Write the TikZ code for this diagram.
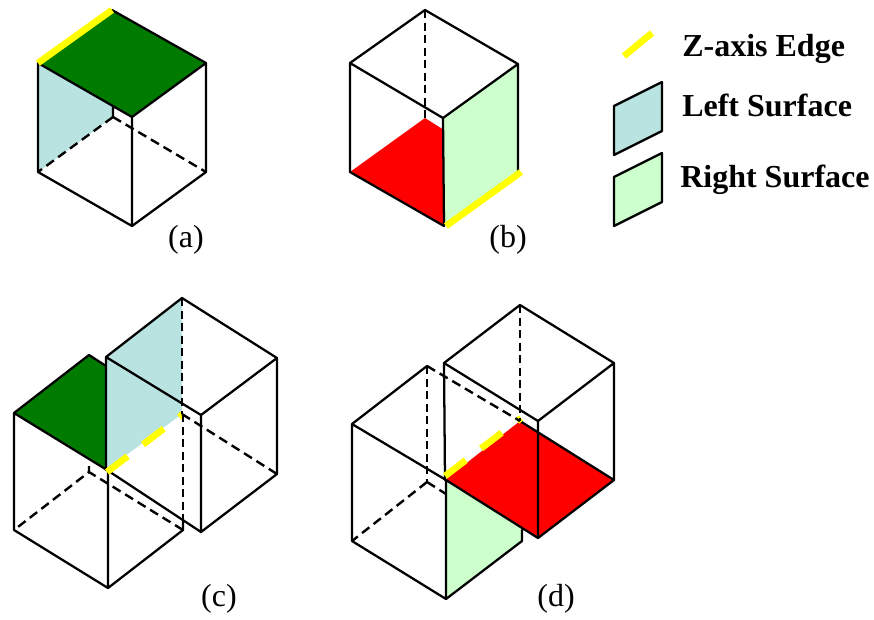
\documentclass[tikz,border=0pt]{standalone}
\usepackage{fontspec}
\setmainfont{Liberation Serif}
\definecolor{tealf}{HTML}{B9E3E1}
\definecolor{lgreen}{HTML}{CCFFCC}
\definecolor{dgreen}{HTML}{007B00}
\definecolor{yel}{HTML}{FFFF00}
\tikzset{
  edgeline/.style={line width=1.7pt,line join=round,line cap=round},
  hidden/.style={line width=1.8pt,dash pattern=on 7pt off 4pt},
  hiddenv/.style={line width=1.8pt,dash pattern=on 6pt off 3.4pt},
  zedge/.style={line width=5pt,yel},
  zdash/.style={line width=5pt,yel,dash pattern=on 19.5pt off 14.5pt},
  caplabel/.style={font=\fontsize{24pt}{24pt}\selectfont,anchor=base},
  legendlabel/.style={font=\fontsize{24pt}{24pt}\selectfont\bfseries,anchor=base west,inner sep=0pt},
}
\begin{document}
\begin{tikzpicture}[x=0.75pt,y=-0.75pt]
\useasboundingbox (0,0) rectangle (874,619);
% (a)
\fill[tealf] (38,63) -- (113,105) -- (113,117) -- (38,172) -- cycle;
\fill[dgreen] (112,10) -- (38,63) -- (132,117) -- (206,63) -- cycle;
\draw[edgeline] (112,10) -- (206,63) -- (132,117) -- (38,63) -- (38,172) -- (132,226) -- (206,172) -- (206,63) (132,117) -- (132,226) (113,106) -- (113,117);
\draw[zedge] (38,63) -- (112,10);
\draw[hidden] (113,117) -- (38,172) (113,117) -- (206,172);
\node[caplabel] (la) at (186,247) {(a)};
% (b)
\fill[red] (425,118) -- (350,172) -- (444,226) -- (444,130) -- cycle;
\fill[lgreen] (443,118) -- (518,64) -- (518,172) -- (444,226) -- cycle;
\draw[edgeline] (425,10) -- (350,63) -- (443,118) -- (518,64) -- (425,10) (350,63) -- (350,172) -- (444,226) -- (443,118) (518,64) -- (518,172);
\draw[zedge] (446,226) -- (521,172);
\draw[hiddenv] (425,10) -- (425,118);
\node[caplabel] (lb) at (508,247) {(b)};
% (c)
\fill[dgreen] (14,413) -- (89,355) -- (106,366) -- (106,470) -- cycle;
\fill[tealf] (106,357) -- (182,298) -- (182,414) -- (106,470) -- cycle;
\draw[edgeline] (14,413) -- (89,355) -- (106,366) (14,413) -- (107,470) -- (201,532)
  (14,413) -- (14,530) -- (108,588) -- (183,530) -- (183,522) (108,470) -- (108,588);
\draw[edgeline] (106,357) -- (182,298) -- (277,358) -- (201,415) -- (106,357) -- (106,470)
  (201,415) -- (201,532) -- (277,474) -- (277,358);
\draw[zdash] (107,472) -- (183,414);
\draw[hiddenv] (182,298) -- (182,414);
\draw[hidden] (182,414) -- (277,474);
\draw[hiddenv] (183,414) -- (183,530);
\draw[hidden] (183,530) -- (89,472) -- (14,530) (89,472) -- (89,466);
\node[caplabel] (lc) at (219,606) {(c)};
% (d)
\fill[lgreen] (446,480) -- (522,528) -- (522,541) -- (446,599) -- cycle;
\fill[red] (445,480) -- (520,421) -- (614,480) -- (538,538) -- cycle;
\draw[edgeline] (352,424) -- (427,366) (352,424) -- (446,480) -- (538,538)
  (352,424) -- (352,541) -- (446,599) -- (522,541) -- (522,530) (446,480) -- (446,599);
\draw[edgeline] (444,363) -- (520,305) -- (614,363) -- (538,421) -- (444,363) -- (445,480)
  (538,421) -- (538,538) -- (614,480) -- (614,363) (520,421) -- (614,480);
\draw[zdash] (445,476) -- (521,418);
\draw[hiddenv] (520,305) -- (520,421);
\draw[hiddenv] (427,366) -- (427,482);
\draw[hidden] (427,482) -- (352,541) (427,482) -- (446,494) (427,366) -- (520,421);
\node[caplabel] (ld) at (556,606) {(d)};
% legend
\draw[zedge] (624,56) -- (652,33);
\draw[edgeline,fill=tealf] (614,106) -- (662,82) -- (662,131) -- (614,155) -- cycle;
\draw[edgeline,fill=lgreen] (614,177) -- (662,153) -- (662,202) -- (614,226) -- cycle;
\node[legendlabel] (lz) at (682,56) {Z-axis Edge};
\node[legendlabel] (ll) at (682,116) {Left Surface};
\node[legendlabel] (lr) at (680,187) {Right Surface};
\end{tikzpicture}
\end{document}
